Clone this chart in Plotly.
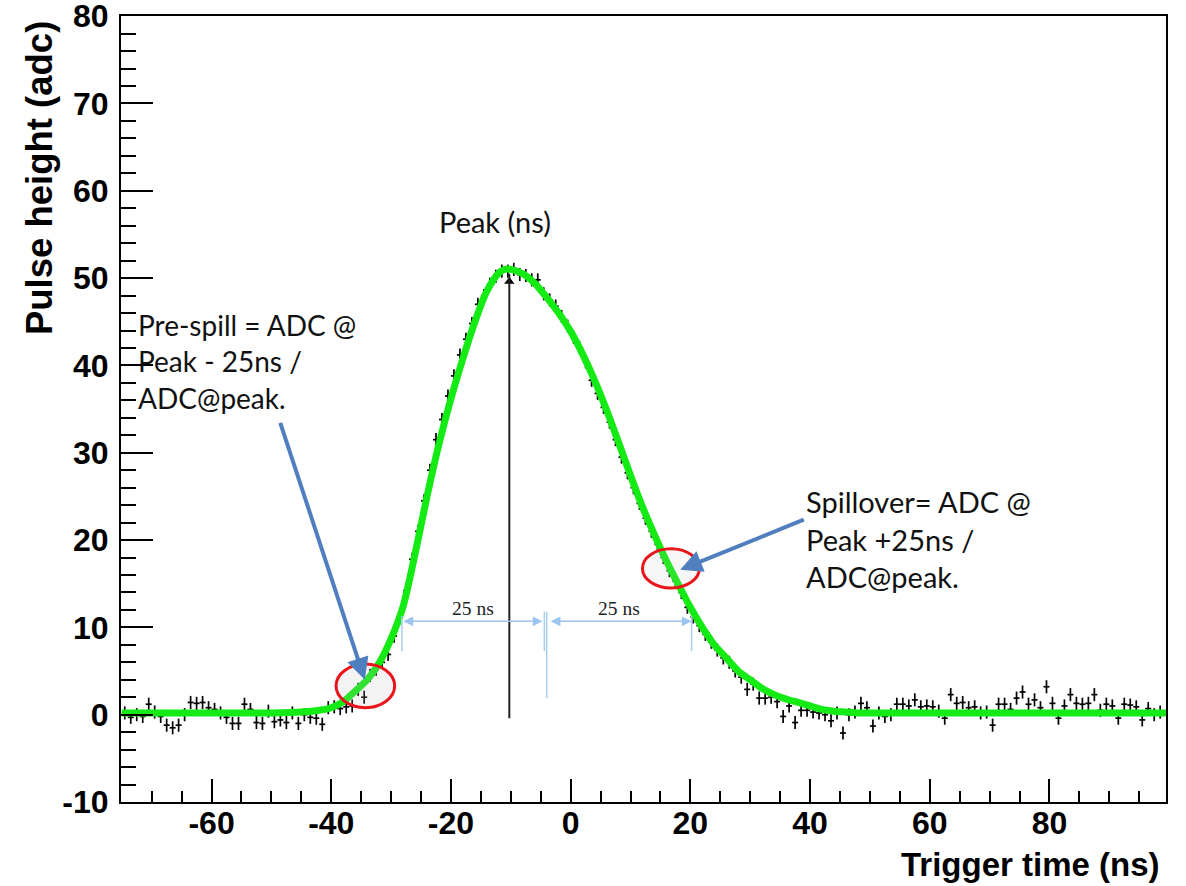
import plotly.graph_objects as go

# ---------------- data ----------------
BIN_LO = -75.0          # first bin lower edge (ns)
BIN_W = 1.0             # bin width (ns)
pulse_adc = [
    0.2, -0.3, 0.0, -0.2, 1.2, 0.3, -0.2, -1.2, -1.5, -1.2,
    0.0, 1.4, 1.3, 1.4, 0.8, 0.6, 0.2, -0.3, -1.0, -1.0,
    1.2, 0.6, -0.9, -1.0, 0.4, -0.8, -0.6, -0.9, 0.2, -1.0,
    0.0, -0.3, -0.4, -1.1, 0.8, 0.9, 0.7, 0.9, 1.0, 2.9,
    2.0, 4.5, 5.2, 6.0, 6.9, 9.0, 11.1, 14.2, 17.8, 21.0,
    24.5, 28.0, 31.5, 33.8, 36.5, 38.8, 41.2, 43.0, 44.8, 47.0,
    48.0, 49.3, 50.2, 50.8, 50.8, 51.0, 50.4, 50.3, 49.8, 49.8,
    48.2, 47.5, 46.8, 45.6, 44.5, 43.2, 42.0, 40.4, 38.3, 36.8,
    35.2, 33.5, 31.5, 29.5, 27.7, 26.0, 24.2, 22.5, 21.0, 19.5,
    18.0, 16.5, 15.3, 14.0, 12.3, 11.2, 10.2, 9.2, 8.3, 7.4,
    6.5, 6.0, 5.0, 4.3, 2.9, 3.5, 1.9, 1.9, 2.0, 1.5,
    -0.2, 1.0, -0.9, 0.5, 0.5, 0.3, 0.2, 0.0, -0.7, 0.2,
    -2.1, 0.0, 0.3, 1.3, 0.8, -1.3, 0.2, -0.2, 0.0, 1.2,
    1.2, 1.0, 1.7, 0.9, 1.0, 0.9, 0.4, -0.4, 2.3, 1.3,
    1.4, 0.8, 0.9, 0.2, 0.3, -1.2, 1.2, 1.2, 0.6, 1.9,
    2.6, 1.2, 1.7, 0.8, 3.2, 1.3, -0.4, 1.0, 2.3, 1.3,
    1.2, 1.3, 2.3, 0.5, 1.2, 1.0, -0.4, 1.2, 1.1, 0.9,
    -0.6, 0.7, 0.0, 0.3,
]
pulse_err = 0.75

fit_t = [-75, -60, -50, -45, -42, -40, -38, -36, -34, -32, -30, -28, -26, -24,
         -22, -20, -18, -16, -14, -12, -11, -10, -8, -6, -4, -2, 0, 2, 4, 6,
         8, 10, 12, 14, 16, 18, 20, 22, 24, 26, 28, 30, 32, 34, 36, 38, 40,
         42, 44, 46, 48, 50, 60, 80, 99.5]
fit_adc = [0.2, 0.2, 0.2, 0.3, 0.5, 0.8, 1.5, 2.7, 4.0, 5.9, 8.7, 12.4, 18.4,
           25.0, 31.0, 36.2, 40.8, 45.0, 48.5, 50.6, 51.0, 51.0, 50.5, 49.4,
           47.8, 46.0, 43.9, 41.3, 38.3, 34.9, 31.2, 27.4, 23.8, 20.6, 17.6,
           14.9, 12.3, 10.0, 8.0, 6.5, 5.0, 4.0, 3.0, 2.3, 1.8, 1.4, 1.0, 0.6,
           0.4, 0.3, 0.2, 0.2, 0.2, 0.2, 0.2]

x_ticks = [-60, -40, -20, 0, 20, 40, 60, 80]
x_tick_text = ["-60", "-40", "-20", "0", "20", "40", "60", "80"]
y_ticks = [-10, 0, 10, 20, 30, 40, 50, 60, 70, 80]
y_tick_text = ["-10", "0", "10", "20", "30", "40", "50", "60", "70", "80"]

peak_t = -10.25
peak_adc = 50.5
presample_arrow = dict(tip=(-34.4, 4.0), tail=(-48.6, 33.6))
spill_arrow = dict(tip=(18.3, 16.6), tail=(39.2, 22.4))
dim_left = (-28.2, -4.7)
dim_right = (-3.6, 20.2)
dim_y = 10.7

pulse_t = [BIN_LO + BIN_W * (i + 0.5) for i in range(len(pulse_adc))]

fig = go.Figure()

fig.add_trace(go.Scatter(
    x=pulse_t, y=pulse_adc, mode="markers",
    marker=dict(size=1, color="black"),
    error_x=dict(type="constant", value=BIN_W / 2, width=0, thickness=1.7, color="black"),
    error_y=dict(type="constant", value=pulse_err, width=0, thickness=1.7, color="black"),
    showlegend=False, hoverinfo="skip"))

fig.add_trace(go.Scatter(
    x=fit_t, y=fit_adc, mode="lines",
    line=dict(color="rgb(20,235,20)", width=7, shape="spline", smoothing=0.8),
    showlegend=False, hoverinfo="skip"))

fig.add_trace(go.Scatter(
    x=[peak_t], y=[peak_adc - 0.9], mode="markers",
    marker=dict(symbol="triangle-up", size=9, color="black"),
    showlegend=False, hoverinfo="skip"))

shapes = []
shapes.append(dict(type="line", xref="x", yref="y", x0=peak_t, x1=peak_t, y0=-0.4, y1=peak_adc,
                   line=dict(color="#222222", width=2)))
ext = "#a8cdf0"
shapes.append(dict(type="line", xref="x", yref="y", x0=dim_left[0], x1=dim_left[0], y0=11.3, y1=7.3,
                   line=dict(color=ext, width=1.5)))
shapes.append(dict(type="line", xref="x", yref="y", x0=-4.4, x1=-4.4, y0=11.8, y1=7.3,
                   line=dict(color=ext, width=1.5)))
shapes.append(dict(type="line", xref="x", yref="y", x0=-4.0, x1=-4.0, y0=11.8, y1=1.9,
                   line=dict(color=ext, width=1.5)))
shapes.append(dict(type="line", xref="x", yref="y", x0=dim_right[1], x1=dim_right[1], y0=11.3, y1=7.3,
                   line=dict(color=ext, width=1.5)))
shapes.append(dict(type="circle", xref="x", yref="y", x0=-39.2, x1=-29.4, y0=0.8, y1=5.8,
                   line=dict(color="#e8151b", width=3), fillcolor="rgba(190,190,190,0.18)"))
shapes.append(dict(type="circle", xref="x", yref="y", x0=12.0, x1=21.5, y0=14.5, y1=19.0,
                   line=dict(color="#e8151b", width=3), fillcolor="rgba(190,190,190,0.12)"))

annotations = []
blue = "#4f7fbf"
for a in (presample_arrow, spill_arrow):
    annotations.append(dict(x=a["tip"][0], y=a["tip"][1], ax=a["tail"][0], ay=a["tail"][1],
                            xref="x", yref="y", axref="x", ayref="y", text="",
                            showarrow=True, arrowhead=2, arrowsize=1.1, arrowwidth=4,
                            arrowcolor=blue))
for (x0, x1) in (dim_left, dim_right):
    annotations.append(dict(x=x1, y=dim_y, ax=x0, ay=dim_y, xref="x", yref="y",
                            axref="x", ayref="y", text="", showarrow=True,
                            arrowhead=2, arrowside="end+start", arrowsize=1.3,
                            arrowwidth=1.5, arrowcolor="#9cc4ee"))
serif = dict(family="Liberation Serif", size=19.5, color="#222222")
annotations.append(dict(x=-16.4, y=12.2, xref="x", yref="y", text="25 ns", showarrow=False,
                        font=serif))
annotations.append(dict(x=8.1, y=12.2, xref="x", yref="y", text="25 ns", showarrow=False,
                        font=serif))
note_font = dict(family="Lato", size=28, color="#111111")
annotations.append(dict(x=-12.6, y=56.5, xref="x", yref="y", text="Peak (ns)", showarrow=False,
                        font=dict(note_font, size=29)))
annotations.append(dict(x=-72.6, y=40.5, xref="x", yref="y", xanchor="left", yanchor="middle",
                        align="left", showarrow=False, font=note_font,
                        text="Pre-spill = ADC @<br>Peak - 25ns /<br>ADC@peak."))
annotations.append(dict(x=39.0, y=20.1, xref="x", yref="y", xanchor="left", yanchor="middle",
                        align="left", showarrow=False, font=dict(note_font, size=29),
                        text="Spillover= ADC @<br>Peak +25ns /<br>ADC@peak."))
title_font = dict(family="Liberation Sans", size=33, color="black", weight="bold")
annotations.append(dict(x=-0.0774, y=0.794, xref="paper", yref="paper", textangle=-90,
                        xanchor="center", yanchor="middle", showarrow=False,
                        text="Pulse height (adc)", font=dict(title_font, size=36.5)))
annotations.append(dict(x=0.9965, y=-0.080, xref="paper", yref="paper", xanchor="right",
                        yanchor="middle", showarrow=False, text="Trigger time (ns)",
                        font=title_font))

tick_font = dict(family="Liberation Sans", size=32, color="black", weight="bold")
fig.update_layout(
    width=1186, height=886,
    margin=dict(l=121, r=20, t=16, b=84, autoexpand=False),
    paper_bgcolor="white", plot_bgcolor="white",
    shapes=shapes, annotations=annotations,
    xaxis=dict(range=[-75.13, 99.47], tickmode="array", tickvals=x_ticks, ticktext=x_tick_text,
               ticks="inside", ticklen=23, automargin=False,
               tickwidth=2, tickcolor="black", showline=True, linewidth=2, linecolor="black",
               mirror=True, showgrid=False, zeroline=False, tickfont=tick_font,
               ticklabelstandoff=-8, ticklabeloverflow="allow",
               minor=dict(ticks="inside", ticklen=11, tick0=0, dtick=5, tickwidth=2,
                          tickcolor="black", showgrid=False)),
    yaxis=dict(range=[-10, 80.02], tickmode="array", tickvals=y_ticks, ticktext=y_tick_text,
               ticks="inside", ticklen=32, automargin=False,
               tickwidth=2, tickcolor="black", showline=True, linewidth=2, linecolor="black",
               mirror=True, showgrid=False, zeroline=False, tickfont=tick_font,
               ticklabelstandoff=4, ticklabeloverflow="allow",
               minor=dict(ticks="inside", ticklen=15, tick0=0, dtick=2, tickwidth=2,
                          tickcolor="black", showgrid=False)),
)

fig.write_html("out.html")
